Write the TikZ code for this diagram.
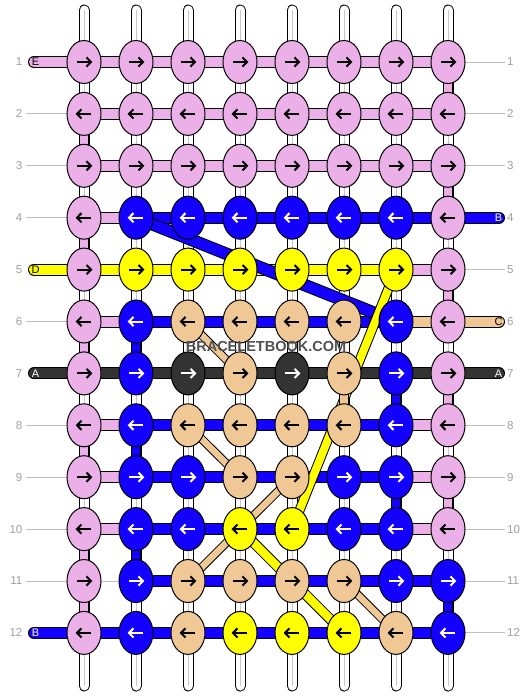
\documentclass[tikz,border=0pt]{standalone}
\usepackage{fontspec}
\setmainfont{Liberation Sans}
\usetikzlibrary{shapes.geometric}
\definecolor{kP}{RGB}{236,176,232}
\definecolor{kB}{RGB}{20,0,255}
\definecolor{kY}{RGB}{255,255,0}
\definecolor{kT}{RGB}{240,200,150}
\definecolor{kK}{RGB}{51,51,51}
\definecolor{numgray}{RGB}{160,160,160}
\definecolor{linegray}{RGB}{190,190,190}
\definecolor{wmgray}{RGB}{80,80,80}
\colorlet{aP}{black}
\colorlet{aB}{white}
\colorlet{aY}{black}
\colorlet{aT}{black}
\colorlet{aK}{white}
\newcommand\strandseg[5]{%
  \draw[black,line width=#2] (#4)--(#5);
  \draw[#1,line width=#3] (#4)--(#5);}
\tikzset{
  knot/.style={ellipse, draw=black, line width=1pt, minimum width=34pt, minimum height=43pt, inner sep=0pt},
  numlbl/.style={text=numgray, inner sep=0pt, font=\fontsize{11.5}{12}\selectfont},
  endlbl/.style={inner sep=0pt, font=\fontsize{11}{11}\selectfont},
  guide/.style={linegray, line width=1pt}
}
\begin{document}
\begin{tikzpicture}[x=1pt,y=-1pt]
\useasboundingbox (0,0) rectangle (532,696);
\fill[white] (0,0) rectangle (532,696);
% grid coordinates
\foreach \R in {1,...,12}{
  \foreach \C in {1,...,8}{
    \coordinate (p-\R-\C) at ({84+52*(\C-1)},{62+51.9*(\R-1)});
  }
}
% white vertical strands
\foreach \C in {1,...,8}{
  \coordinate (t-\C) at ({84+52*(\C-1)},10);
  \coordinate (b-\C) at ({84+52*(\C-1)},686);
  \draw[black,line width=11pt,line cap=round] (t-\C)--(b-\C);
  \draw[white,line width=9pt,line cap=round] (t-\C)--(b-\C);
  \draw[black!22,line width=0.8pt] (t-\C)--(b-\C);
}
% guide lines and row numbers
\foreach \R in {1,...,12}{
  \node[numlbl,anchor=east] (nl-\R) at (22.5,{62+51.9*(\R-1)}) {\R};
  \node[numlbl,anchor=west] (nr-\R) at (507,{62+51.9*(\R-1)}) {\R};
}
\foreach \R in {2,3,4,6,8,9,10,11}{
  \coordinate (ll-\R) at (26,{62+51.9*(\R-1)});
  \draw[guide] (ll-\R)--(p-\R-1);
}
\foreach \R in {1,2,3,5,8,9,10,11,12}{
  \coordinate (rl-\R) at (505,{62+51.9*(\R-1)});
  \draw[guide] (p-\R-8)--(rl-\R);
}
\draw[guide] (p-11-1)--(p-11-2);
% left end strands
\foreach \R/\K/\L/\TC in {1/P/E/black,5/Y/D/black,7/K/A/white,12/B/B/white}{
  \coordinate (ls-\R) at (34,{62+51.9*(\R-1)});
  \draw[black,line width=12pt,line cap=round] (ls-\R)--(p-\R-1);
  \draw[k\K,line width=10pt,line cap=round] (ls-\R)--(p-\R-1);
  \node[endlbl,text=\TC] (lt-\R) at (35.5,{62+51.9*(\R-1)}) {\L};
}
% right end strands
\foreach \R/\K/\L/\TC in {4/B/B/white,6/T/C/black,7/K/A/white}{
  \coordinate (rs-\R) at (499,{62+51.9*(\R-1)});
  \draw[black,line width=12pt,line cap=round] (p-\R-8)--(rs-\R);
  \draw[k\K,line width=10pt,line cap=round] (p-\R-8)--(rs-\R);
  \node[endlbl,text=\TC] (rt-\R) at (498.5,{62+51.9*(\R-1)}) {\L};
}
% horizontal strands
\foreach \R/\ST/\SEGS in {1/1/{P,P,P,P,P,P,P},2/1/{P,P,P,P,P,P,P},3/1/{P,P,P,P,P,P,P},
  4/1/{P,B,B,B,B,B,B},5/1/{Y,Y,Y,Y,Y,Y,P},6/1/{P,B,B,B,B,B,T},7/1/{K,K,K,K,K,K,K},
  8/1/{P,B,B,B,B,B,P},9/1/{P,B,B,B,B,B,P},10/1/{P,B,B,B,B,B,P},11/2/{B,B,B,B,B,B},
  12/1/{B,B,B,B,B,B,B}}{
  \foreach \S [count=\I] in \SEGS {
    \pgfmathtruncatemacro\CA{\ST+\I-1}
    \pgfmathtruncatemacro\CB{\ST+\I}
    \strandseg{k\S}{12pt}{10pt}{p-\R-\CA}{p-\R-\CB}
  }
}
% diagonal strands
\strandseg{kB}{12.5pt}{10.5pt}{p-4-2}{p-6-7}
\strandseg{kY}{10pt}{8pt}{p-5-7}{p-10-5}
\strandseg{kY}{10.5pt}{8.5pt}{p-10-4}{p-12-6}
\strandseg{kT}{8.5pt}{6.5pt}{p-6-3}{p-7-4}
\strandseg{kT}{8.5pt}{6.5pt}{p-8-3}{p-9-4}
\strandseg{kT}{8.5pt}{6.5pt}{p-9-5}{p-11-3}
\strandseg{kT}{8.5pt}{6.5pt}{p-11-6}{p-12-7}
% coloured vertical links
\foreach \C/\R/\K in {1/2/P,1/4/P,1/6/P,1/8/P,1/10/P,1/11/P,2/6/B,2/8/B,2/10/B,6/7/T,
  7/7/B,7/9/B,8/1/P,8/3/P,8/5/P,8/7/P,8/9/P,8/11/B}{
  \pgfmathtruncatemacro\RN{\R+1}
  \strandseg{k\K}{10.5pt}{8.5pt}{p-\R-\C}{p-\RN-\C}
}
% knots
\foreach \R/\KS in {1/{P,P,P,P,P,P,P,P},2/{P,P,P,P,P,P,P,P},3/{P,P,P,P,P,P,P,P},
  4/{P,B,B,B,B,B,B,P},5/{P,Y,Y,Y,Y,Y,Y,P},6/{P,B,T,T,T,T,B,P},7/{P,B,K,T,K,T,B,P},
  8/{P,B,T,T,T,T,B,P},9/{P,B,B,T,T,B,B,P},10/{P,B,B,Y,Y,B,B,P},11/{P,B,T,T,T,T,B,B},
  12/{P,B,T,Y,Y,Y,T,B}}{
  \pgfmathsetmacro\DIR{1-2*mod(\R+1,2)}
  \foreach \K [count=\C] in \KS {
    \node[knot,fill=k\K] (k-\R-\C) at (p-\R-\C) {};
    \begin{scope}[shift={(p-\R-\C)},xscale=\DIR]
      \draw[a\K,line width=2pt] (-7.3,0)--(6.5,0);
      \draw[a\K,line width=2pt,line join=miter] (2.5,-4.6)--(7,0)--(2.5,4.6);
    \end{scope}
  }
}
% watermark
\node[text=wmgray,font=\fontsize{14.5}{15}\selectfont\bfseries,inner sep=0pt] (wm) at (266,347) {BRACELETBOOK.COM};
\end{tikzpicture}
\end{document}
